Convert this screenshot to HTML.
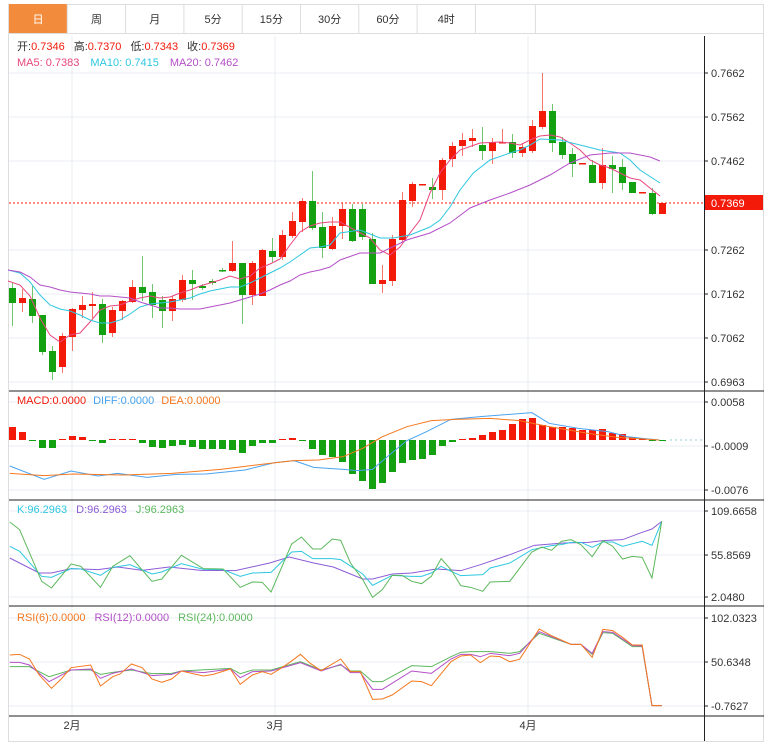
<!DOCTYPE html>
<html><head><meta charset="utf-8"><style>
body{margin:0;background:#fff;font-family:"Liberation Sans","Noto Sans CJK SC",sans-serif;}
svg{display:block}
text{font-family:"Liberation Sans","Noto Sans CJK SC",sans-serif;font-size:11px}
</style></head><body>
<svg id="s" width="767" height="748" xmlns="http://www.w3.org/2000/svg"></svg>
<script>
const s=document.getElementById('s');let h='';
const R='#f31a0a',G='#13a011';
h+='<rect x="8.5" y="4.5" width="755" height="737" fill="#fff" stroke="#ddd"/>';
const tabs=['日','周','月','5分','15分','30分','60分','4时',''];
let tx=9;
tabs.forEach((t,i)=>{const w=i==8?60:58.3;
 if(i==0)h+=`<rect x="9" y="4" width="${w}" height="29" fill="#f28c3c"/>`;
 h+=`<line x1="${tx+w}" y1="4" x2="${tx+w}" y2="33" stroke="#ddd"/>`;
 if(t)h+=`<text x="${tx+w/2}" y="23" text-anchor="middle" font-size="12" fill="${i==0?'#fff':'#333'}">${t}</text>`;tx+=w;});
h+='<line x1="8" y1="33.5" x2="764" y2="33.5" stroke="#ddd"/>';
[73,117,161,250,294,338,382].forEach(y=>h+=`<line x1="9" y1="${y}" x2="704" y2="${y}" stroke="#e8eef3"/>`);
[402,446,490,511,555,597,618,662,706].forEach(y=>h+=`<line x1="9" y1="${y}" x2="704" y2="${y}" stroke="#e8eef3"/>`);
[72,275,528].forEach(x=>h+=`<line x1="${x}" y1="36" x2="${x}" y2="716" stroke="#e8eef3"/>`);
[391,500,606,716].forEach(y=>h+=`<line x1="9" y1="${y}" x2="764" y2="${y}" stroke="#222"/>`);
h+='<line x1="704.5" y1="36" x2="704.5" y2="741" stroke="#222"/>';
const al=[[73,'0.7662'],[117,'0.7562'],[161,'0.7462'],[250,'0.7262'],[294,'0.7162'],[338,'0.7062'],[382,'0.6963'],[402,'0.0058'],[446,'-0.0009'],[490,'-0.0076'],[511,'109.6658'],[555,'55.8569'],[597,'2.0480'],[618,'102.0323'],[662,'50.6348'],[706,'-0.7627']];
al.forEach(([y,t])=>{h+=`<line x1="704" y1="${y}" x2="708" y2="${y}" stroke="#222"/><text x="711" y="${y+4}" fill="#333">${t}</text>`;});
[[72,'2月'],[275,'3月'],[528,'4月']].forEach(([x,t])=>h+=`<text x="${x}" y="729" text-anchor="middle" fill="#333">${t}</text>`);
h+='<line x1="9" y1="203" x2="704" y2="203" stroke="#f31a0a" stroke-dasharray="2,2"/>';
h+='<rect x="705" y="195" width="58" height="15" fill="#f31a0a"/><text x="711" y="207" fill="#fff">0.7369</text>';
const C=[['G',288,303,283,326],['R',298,303,289,312],['G',299,316,286,323],['G',315,352,315,355],['G',351,372,346,380],['R',336,367,333,373],['R',309,337,308,351],['R',305,310,296,318],['R',304,306,292,318],['G',304,335,299,343],['R',310,333,307,337],['R',301,311,300,320],['R',287,302,280,303],['G',287,293,256,301],['G',292,305,284,318],['G',300,311,296,328],['R',299,311,296,321],['R',280,300,275,302],['G',280,284,270,300],['G',286,288,284,290],['G',281,283,279,285],['G',270,271,268,272],['R',263,271,241,272],['G',263,295,263,324],['R',263,295,261,305],['R',250,296,249,296],['G',251,257,238,262],['R',235,257,230,260],['R',221,236,212,238],['R',201,222,198,232],['G',201,228,171,230],['G',227,248,212,258],['R',226,249,217,250],['R',209,226,203,239],['G',209,241,204,242],['G',209,237,204,240],['G',239,284,233,284],['R',280,284,265,293],['R',239,281,235,286],['R',200,240,192,242],['R',184,201,182,207],['R',184,185,184,185],['G',187,190,178,199],['R',160,190,158,200],['R',146,159,142,167],['R',140,146,133,156],['R',138,141,129,147],['G',145,151,127,160],['R',142,151,138,164],['R',142,143,129,143],['G',142,153,134,158],['R',147,153,143,157],['R',126,151,120,153],['R',111,127,73,129],['G',111,143,104,152],['G',142,155,137,159],['G',154,164,148,177],['R',163,164,163,164],['G',165,183,160,183],['R',165,183,148,189],['G',165,169,156,193],['G',167,183,159,190],['G',182,193,182,193],['R',192,193,192,193],['G',193,214,188,215],['R',203,214,203,214]];
C.forEach((c,i)=>{const x=12+10*i,col=c[0]=='R'?R:G;
 h+=`<line x1="${x+.5}" y1="${c[3]}" x2="${x+.5}" y2="${c[4]}" stroke="${col}" opacity=".6"/>`;
 h+=`<rect x="${x-3}" y="${c[1]}" width="7" height="${Math.max(1.5,c[2]-c[1])}" fill="${col}"/>`;});
const pl=(pts,col,w)=>`<polyline points="${pts.map(p=>p.join(',')).join(' ')}" fill="none" stroke="${col}" stroke-width="${w||1}"/>`;
const z4=a=>a.map(([zx,y])=>[340+zx/3,y]);
let ma5=[[8,281],[20,285],[30,296],[40,318],[50,335],[60,342],[70,335],[80,333],[90,322],[100,310],[110,306],[120,305],[130,301],[140,298],[150,296],[160,298],[170,297],[180,293],[190,290],[200,286],[210,283],[220,280],[230,276],[240,279],[250,276],[260,268],[270,264],[280,259],[290,245],[300,232],[310,226],[320,223],[330,222],[340,222]].concat(z4([[90,238],[120,250],[150,255],[180,247],[210,233],[240,220],[270,193],[300,173],[330,160],[360,150],[420,143],[480,142],[510,143],[540,145],[570,140],[600,136],[630,135],[660,137],[690,143],[720,150],[750,160],[780,165],[810,168],[840,173],[870,178],[900,180],[930,188],[960,196]]));
let ma10=[[8,270],[20,273],[30,282],[40,295],[50,305],[60,309],[70,311],[80,315],[90,320],[100,323],[110,323],[120,320],[130,314],[140,307],[150,304],[160,303],[170,302],[180,300],[190,298],[200,294],[210,291],[220,289],[230,287],[240,287],[250,283],[260,278],[270,273],[280,268],[290,262],[300,255],[310,248],[320,247],[330,245],[340,233]].concat(z4([[60,230],[120,238],[160,238],[210,235],[270,227],[300,220],[330,207],[360,190],[400,173],[450,160],[510,153],[540,150],[570,145],[600,139],[660,140],[720,145],[780,150],[840,153],[870,160],[900,170],[960,183]]));
let ma20=[[8,270],[20,272],[30,277],[40,285],[50,287],[60,290],[70,292],[80,293],[90,294],[100,296],[110,296],[120,297],[130,298],[140,302],[150,305],[160,308],[170,308],[180,309],[190,309],[200,309],[210,307],[220,305],[230,303],[240,300],[250,297],[260,294],[270,290],[280,285],[290,281],[300,275],[310,272],[320,270],[330,267],[340,260]].concat(z4([[60,253],[120,253],[200,240],[270,233],[330,223],[390,208],[450,200],[510,193],[570,185],[630,175],[690,163],[750,155],[810,153],[870,153],[930,157],[960,161]]));
h+=pl(ma5,'#e8467c')+pl(ma10,'#2ec7e0')+pl(ma20,'#b44fc8');
h+='<text x="17" y="50" font-size="12" fill="#333">开:<tspan fill="#f31a0a">0.7346</tspan><tspan dx="9">高:</tspan><tspan fill="#f31a0a">0.7370</tspan><tspan dx="9">低:</tspan><tspan fill="#f31a0a">0.7343</tspan><tspan dx="9">收:</tspan><tspan fill="#f31a0a">0.7369</tspan></text>';
h+='<text x="17" y="66" font-size="12" fill="#e8467c">MA5: 0.7383<tspan fill="#2ec7e0" dx="11">MA10: 0.7415</tspan><tspan fill="#b44fc8" dx="11">MA20: 0.7462</tspan></text>';
const mb=[427,432,441,448,448,439,436,437,440,443,439,439,439,443,447,448,446,445,447,449,449,449,450,453,446,443,443,439,438,440,449,455,457,462,474,481,489,483,472,463,460,459,455,446,442,439,438,435,432,430,424,419,418,425,427,427,428,430,430,429,433,434,437,439,441,440];
mb.forEach((y,i)=>{const x=12+10*i;const col=y<440?R:G;const t=Math.min(y,440),hh=Math.max(1,Math.abs(y-440));h+=`<rect x="${x-3}" y="${t}" width="7" height="${hh}" fill="${col}"/>`;});
h+='<line x1="670" y1="440" x2="704" y2="440" stroke="#9cd" stroke-dasharray="2,3"/>';
const zm=(a,oy)=>a.map(([zx,zy])=>[zx/2.04,oy+zy/3]);
h+=pl(zm([[20,258],[90,298],[145,273],[200,288],[240,280],[300,292],[360,283],[420,282],[500,270],[560,248],[600,242],[640,262],[700,268],[730,272],[760,268],[800,218],[830,182],[870,155],[920,118],[980,110],[1040,103],[1085,98],[1120,130],[1180,145],[1240,155],[1280,170],[1310,175],[1345,180]],380),'#4aa3ef');
h+=pl(zm([[20,280],[90,287],[150,282],[250,285],[350,280],[450,268],[550,250],[600,242],[650,240],[700,230],[740,205],[780,170],[830,140],[880,122],[930,118],[1000,115],[1060,122],[1120,140],[1200,160],[1260,172],[1345,180]],380),'#f5781e');
h+='<text x="17" y="404" fill="#f31a0a">MACD:0.0000<tspan fill="#4aa3ef" dx="7">DIFF:0.0000</tspan><tspan fill="#f5781e" dx="7">DEA:0.0000</tspan></text>';
h+=pl(zm([[20,180],[40,195],[80,225],[105,225],[145,212],[200,215],[240,207],[290,217],[345,207],[410,217],[480,218],[550,195],[590,177],[640,195],[680,207],[740,243],[760,243],[800,228],[840,225],[890,213],[940,218],[980,200],[1040,170],[1090,142],[1150,135],[1200,133],[1230,128],[1270,125],[1310,103],[1330,93],[1350,70]],498),'#8c5cd6');
h+=pl(zm([[20,145],[40,160],[85,235],[105,238],[145,212],[165,213],[205,232],[230,208],[265,200],[310,228],[330,222],[370,197],[415,214],[455,215],[490,235],[515,225],[553,223],[595,162],[615,160],[638,182],[678,182],[695,185],[740,228],[760,262],[800,232],[840,235],[860,235],[880,225],[900,205],[920,220],[940,233],[985,230],[1000,210],[1040,195],[1085,155],[1125,143],[1145,140],[1165,133],[1185,133],[1208,148],[1230,132],[1250,132],[1270,145],[1310,130],[1330,142],[1350,70]],498),'#2ec7e0');
h+=pl(zm([[20,72],[40,95],[85,250],[105,270],[145,198],[165,205],[205,268],[230,205],[265,173],[310,250],[330,243],[370,172],[415,212],[455,213],[490,268],[515,252],[535,253],[553,282],[595,138],[615,117],[638,153],[655,153],[678,123],[695,127],[715,195],[740,245],[760,298],[780,275],[800,232],[820,232],[840,250],[860,257],[880,235],[900,182],[920,215],[940,263],[960,268],[985,280],[1000,252],[1040,250],[1085,162],[1105,147],[1125,157],[1145,130],[1165,125],[1185,140],[1208,176],[1230,128],[1250,145],[1270,183],[1290,175],[1310,178],[1330,240],[1350,70]],498),'#5cb85c');
h+='<text x="17" y="513" fill="#2ec7e0">K:96.2963<tspan fill="#8c5cd6" dx="9">D:96.2963</tspan><tspan fill="#5cb85c" dx="9">J:96.2963</tspan></text>';
h+=pl(zm([[20,185],[60,185],[100,215],[145,195],[185,195],[205,208],[230,202],[268,195],[310,206],[350,205],[370,198],[470,190],[490,206],[515,195],[553,195],[613,170],[655,195],[695,180],[715,198],[735,198],[760,230],[780,230],[840,182],[880,185],[920,155],[940,142],[960,140],[1000,140],[1040,145],[1060,140],[1100,85],[1165,118],[1185,118],[1208,148],[1230,83],[1250,85],[1290,125],[1310,125],[1330,302],[1350,302]],605),'#5cb85c');
h+=pl(zm([[20,172],[40,172],[60,180],[100,230],[145,195],[185,192],[205,220],[230,205],[268,192],[310,212],[350,208],[370,198],[415,203],[470,192],[490,218],[515,200],[553,198],[613,173],[655,198],[695,178],[715,203],[735,203],[760,253],[780,253],[840,198],[880,205],[920,162],[940,148],[960,148],[980,155],[1000,145],[1040,152],[1060,145],[1100,80],[1165,118],[1185,118],[1208,145],[1230,80],[1250,82],[1290,122],[1310,123],[1330,302],[1350,302]],605),'#b44fc8');
h+=pl(zm([[20,150],[40,148],[60,162],[80,210],[105,250],[125,222],[145,188],[185,180],[205,243],[230,215],[245,207],[268,177],[290,188],[310,222],[330,232],[350,222],[370,198],[415,213],[435,208],[470,192],[490,238],[515,210],[535,200],[553,208],[575,188],[593,170],[613,148],[633,175],[655,197],[695,162],[715,200],[735,200],[760,283],[780,282],[800,270],[840,228],[860,230],[880,242],[920,170],[940,153],[960,150],[980,173],[1000,153],[1020,155],[1040,170],[1060,163],[1100,72],[1125,92],[1165,118],[1185,118],[1208,157],[1230,73],[1250,77],[1270,97],[1290,120],[1310,120],[1330,302],[1350,302]],605),'#f5781e');
h+='<text x="17" y="621" fill="#f5781e">RSI(6):0.0000<tspan fill="#b44fc8" dx="9">RSI(12):0.0000</tspan><tspan fill="#5cb85c" dx="9">RSI(24):0.0000</tspan></text>';
s.innerHTML=h;
</script>
</body></html>
